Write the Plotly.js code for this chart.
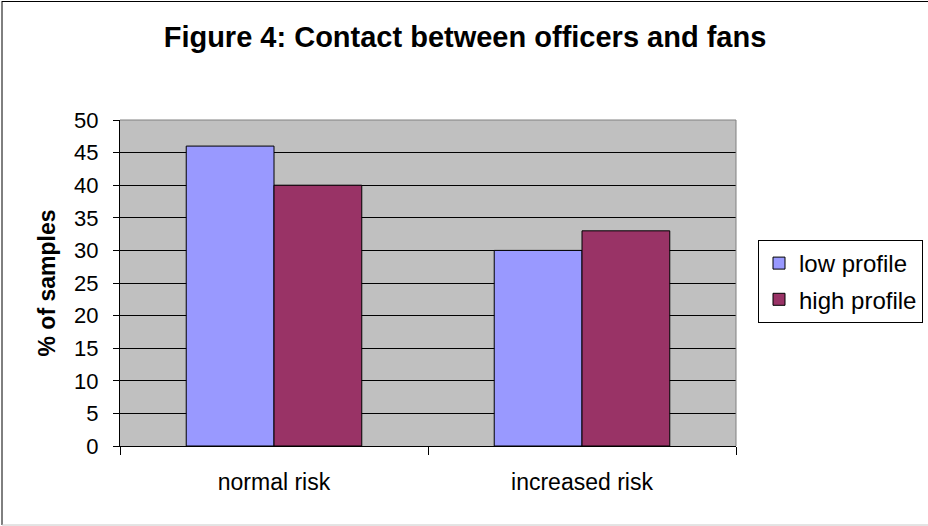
<!DOCTYPE html>
<html>
<head>
<meta charset="utf-8">
<script src="https://cdn.plot.ly/plotly-3.0.1.min.js"></script>
<style>
  html, body { margin: 0; padding: 0; background: #fff; }
  #chart { width: 928px; height: 526px; }
</style>
</head>
<body>
<div id="chart"></div>
<script>
// Contact between officers and fans, by risk level
const categories = ["normal risk", "increased risk"];
const lowProfile = [46, 30];
const highProfile = [40, 33];
const seriesNames = ["low profile", "high profile"];
const yTicks = [0, 5, 10, 15, 20, 25, 30, 35, 40, 45, 50];

const W = 928, H = 526;
const M = { l: 120, r: 192, t: 120, b: 80 };
const pw = W - M.l - M.r, ph = H - M.t - M.b;
// helpers to convert pixel positions into paper fractions for frame lines
const px = v => (v - M.l) / pw;
const py = v => (H - M.b - v) / ph;

const font = "Liberation Sans, Arial, sans-serif";

const traces = [
  {
    type: "bar", name: seriesNames[0], x: categories, y: lowProfile,
    legendgroup: "a",
    marker: { color: "#9999FF", line: { color: "#000", width: 1 } },
    hoverinfo: "x+y+name"
  },
  {
    type: "bar", name: seriesNames[1], x: categories, y: highProfile,
    legendgroup: "b",
    marker: { color: "#993366", line: { color: "#000", width: 1 } },
    hoverinfo: "x+y+name"
  }
];

const layout = {
  width: W, height: H,
  margin: M,
  paper_bgcolor: "#fff",
  plot_bgcolor: "#C0C0C0",
  font: { family: font, color: "#000", size: 22 },
  title: {
    text: "<b>Figure 4: Contact between officers and fans</b>",
    font: { family: font, size: 29, color: "#000" },
    x: 465 / W, xref: "container", xanchor: "center",
    y: 1 - 47 / H, yref: "container", yanchor: "bottom", pad: { b: 0 }
  },
  barmode: "group",
  bargap: 0.43,
  bargroupgap: 0,
  showlegend: true,
  // legend placed against the whole figure so it does not reshape the plot
  legend: {
    x: 758 / W, y: 1 - 240 / H, xanchor: "left", yanchor: "top",
    xref: "container", yref: "container",
    bgcolor: "#fff", bordercolor: "#000", borderwidth: 1,
    font: { family: font, size: 24, color: "#000" },
    tracegroupgap: 2,
    itemwidth: 30
  },
  xaxis: {
    type: "category",
    showline: true, linecolor: "#000", linewidth: 1,
    ticks: "outside", tickson: "boundaries", ticklen: 8, tickcolor: "#000",
    showgrid: false, zeroline: false,
    ticklabelstandoff: 15,
    tickfont: { family: font, size: 23, color: "#000" },
    fixedrange: true
  },
  yaxis: {
    range: [0, 50],
    tickvals: yTicks,
    ticktext: yTicks.map(String),
    showline: true, linecolor: "#000", linewidth: 1,
    ticks: "outside", ticklen: 6, tickcolor: "#000",
    showgrid: true, gridcolor: "#000", gridwidth: 1,
    zeroline: false,
    ticklabelstandoff: 10,
    tickfont: { family: font, size: 22, color: "#000" },
    title: {
      text: "<b>% of samples</b>",
      font: { family: font, size: 23, color: "#000" },
      standoff: 12
    },
    fixedrange: true
  },
  shapes: [
    // plot area top and right edges
    { type: "line", xref: "paper", yref: "paper", x0: 0, x1: 1, y0: 1, y1: 1,
      line: { color: "#808080", width: 1 } },
    { type: "line", xref: "paper", yref: "paper", x0: 1, x1: 1, y0: 0, y1: 1,
      line: { color: "#808080", width: 1 } },
    // chart frame
    { type: "line", xref: "paper", yref: "paper", x0: px(2), x1: px(2), y0: py(1), y1: py(525),
      line: { color: "#000", width: 1 } },
    { type: "line", xref: "paper", yref: "paper", x0: px(2), x1: px(928), y0: py(1.5), y1: py(1.5),
      line: { color: "#000", width: 1 } },
    { type: "line", xref: "paper", yref: "paper", x0: px(2), x1: px(928), y0: py(525), y1: py(525),
      line: { color: "#C8C8C8", width: 1 } }
  ]
};

Plotly.newPlot("chart", traces, layout, { displayModeBar: false, staticPlot: true });
</script>
</body>
</html>
